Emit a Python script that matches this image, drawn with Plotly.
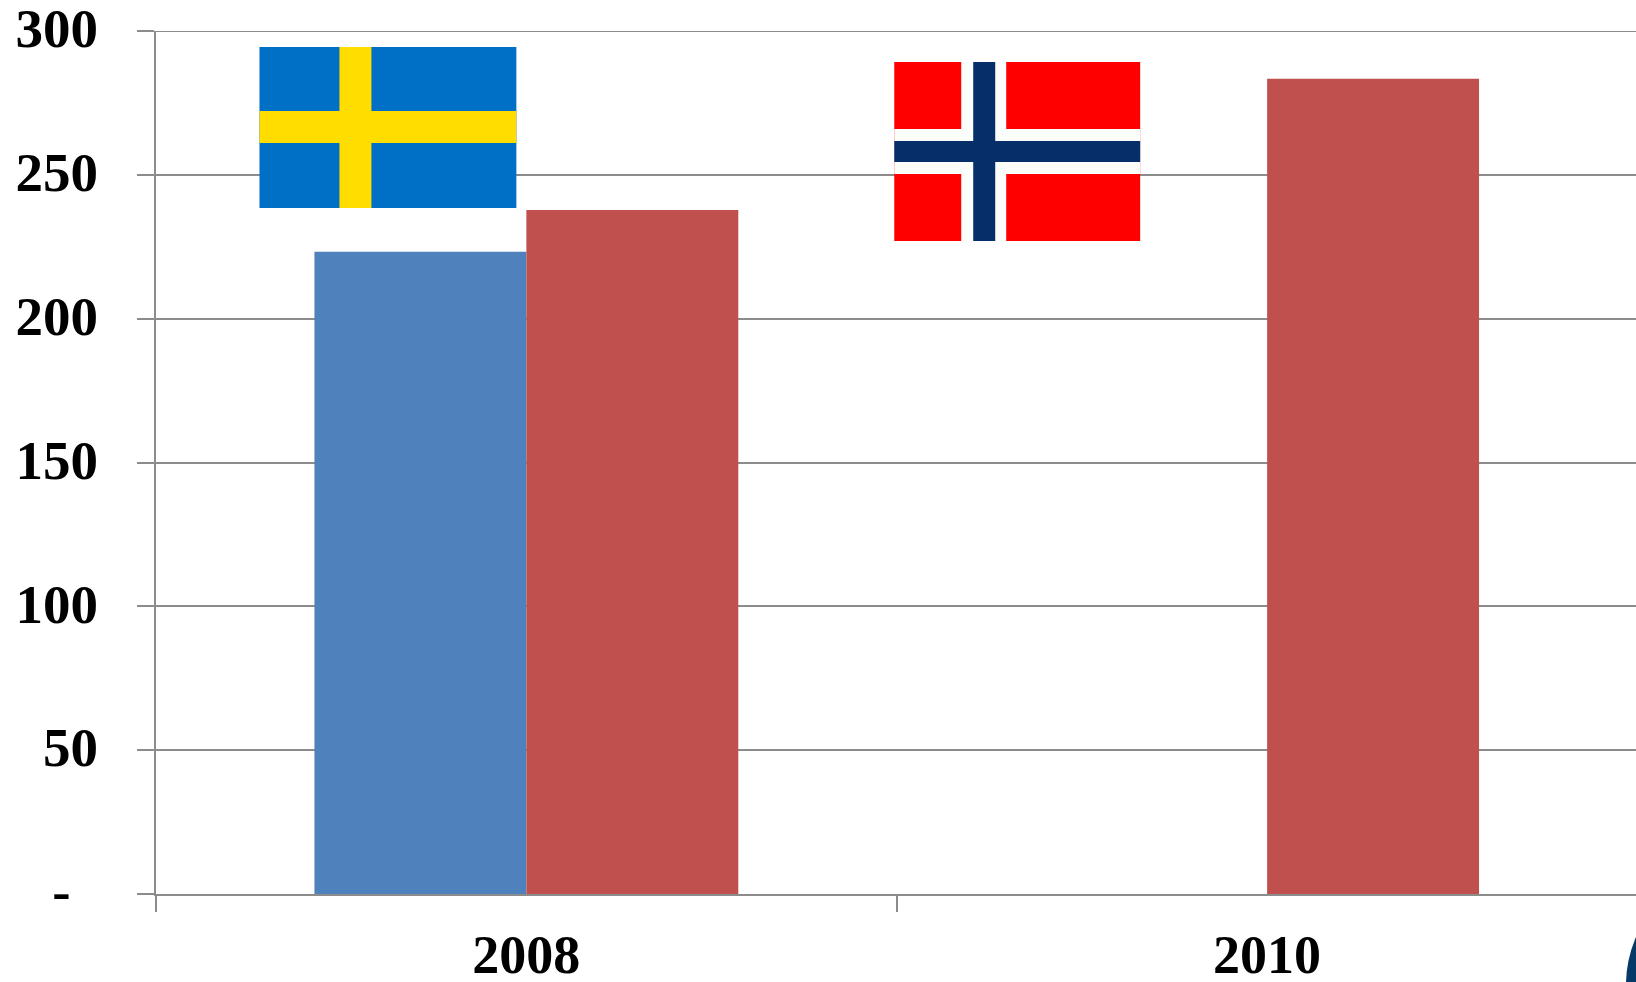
import plotly.graph_objects as go

years = ["2008", "2010"]
sweden = [223.3, 0]
norway = [237.8, 283.4]
y_ticks = [0, 50, 100, 150, 200, 250, 300]
y_labels = ["-\u00a0\u00a0", "50", "100", "150", "200", "250", "300"]

W, H = 1636, 982
L, T, B = 155.5, 31, 88
GREY = "#8C8C8C"
FONT = dict(family="Liberation Serif", size=55, color="black", weight="bold")
X_FONT = dict(family="Liberation Serif", size=54, color="black", weight="bold")


def px(x):
    return (x - L) / (W - L)


def py(y):
    return (H - B - y) / (H - B - T)


def rect(x0, y0, x1, y1, color):
    return dict(type="rect", xref="paper", yref="paper", x0=px(x0), x1=px(x1),
                y0=py(y1), y1=py(y0), fillcolor=color, line_width=0, layer="above")


shapes = [
    # Gridline at the very top of the value axis
    dict(type="line", xref="paper", yref="y", x0=0, x1=1, y0=300, y1=300,
         line=dict(color=GREY, width=2), layer="below"),
    # Swedish flag
    rect(259, 47, 516, 208, "#006FC6"),
    rect(339, 47, 371, 208, "#FFDD00"),
    rect(259, 111, 516, 143, "#FFDD00"),
    # Norwegian flag
    rect(894, 62, 1140, 241, "#FF0000"),
    rect(961, 62, 1006, 241, "#FBFDFB"),
    rect(894, 129, 1140, 174, "#FBFDFB"),
    rect(973, 62, 995, 241, "#062F69"),
    rect(894, 141, 1140, 162, "#062F69"),
    # Corner of a logo cut off by the page edge
    dict(type="circle", xref="paper", yref="paper", x0=px(1626), x1=px(1866),
         y0=py(1105), y1=py(865), fillcolor="#053A68", line_width=0, layer="above"),
]

fig = go.Figure()
fig.add_bar(x=years, y=sweden, name="Sweden", marker=dict(color="#4F81BD", line_width=0))
fig.add_bar(x=years, y=norway, name="Norway", marker=dict(color="#C0504D", line_width=0))

fig.update_layout(
    width=W, height=H,
    margin=dict(l=L, r=0, t=T, b=B, pad=0, autoexpand=False),
    paper_bgcolor="white", plot_bgcolor="white",
    barmode="group", bargap=0.4278, bargroupgap=0,
    showlegend=False,
    font=FONT,
    shapes=shapes,
    xaxis=dict(
        type="category", range=[-0.5, 1.498], tickson="boundaries", automargin=False,
        ticks="outside", ticklen=16, tickwidth=2, tickcolor=GREY,
        showline=True, linecolor=GREY, linewidth=2, showgrid=False,
        tickfont=X_FONT, ticklabelstandoff=12, ticklabeloverflow="allow",
    ),
    yaxis=dict(
        range=[0, 300], tickmode="array", tickvals=y_ticks, ticktext=y_labels, automargin=False,
        ticks="outside", ticklen=17, tickwidth=2, tickcolor=GREY,
        showline=True, linecolor=GREY, linewidth=2,
        showgrid=True, gridcolor=GREY, gridwidth=2, zeroline=False,
        tickfont=FONT, ticklabelstandoff=28, ticklabelshift=-3, ticklabeloverflow="allow",
    ),
)

fig.write_html("out.html", config={"displayModeBar": False},
               post_script="document.body.style.margin='0';")
